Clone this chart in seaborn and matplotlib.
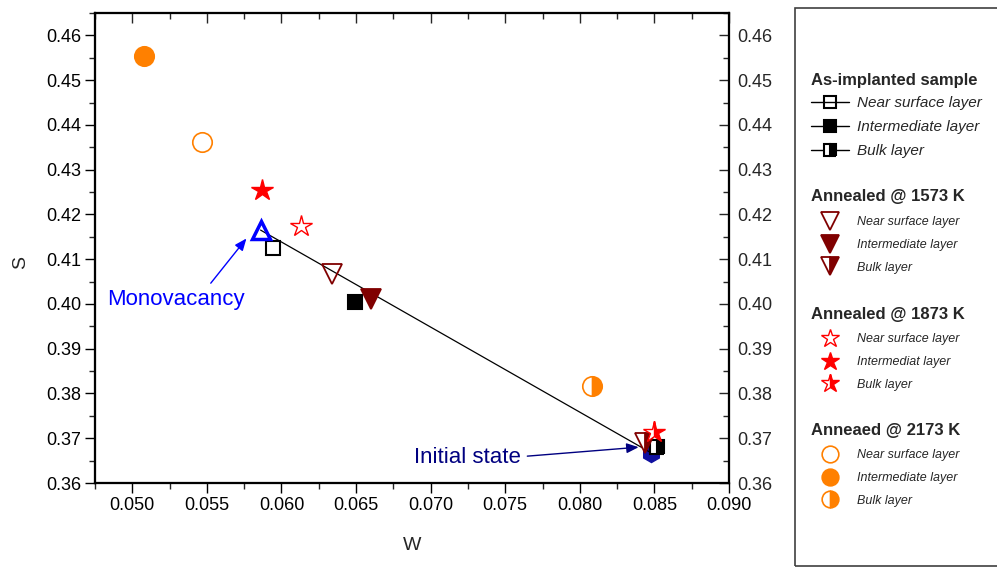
import numpy as np
import pandas as pd
import matplotlib.pyplot as plt
import seaborn as sns
from matplotlib.lines import Line2D
from matplotlib.patches import Rectangle
from matplotlib.ticker import MultipleLocator, FormatStrFormatter, NullFormatter

# data (W, S)
layers = ["Near surface layer", "Intermediate layer", "Bulk layer"]
implanted_w = [0.0594, 0.0649, 0.0852]
implanted_s = [0.4125, 0.4004, 0.3681]
a1573_w = [0.0634, 0.0660, 0.0844]
a1573_s = [0.4068, 0.4012, 0.3689]
a1873_w = [0.0613, 0.0587, 0.0850]
a1873_s = [0.4174, 0.4254, 0.3715]
a2173_w = [0.0547, 0.0508, 0.0808]
a2173_s = [0.4361, 0.4553, 0.3816]
mono_w, mono_s = [0.0586], [0.4165]
init_w, init_s = [0.0848], [0.3667]

headers = ["As-implanted sample", "Annealed @ 1573 K", "Annealed @ 1873 K", "Anneaed @ 2173 K"]
labels_1873 = ["Near surface layer", "Intermediat layer", "Bulk layer"]

sns.set_theme(style='ticks')
plt.rcParams['font.family'] = ['Liberation Sans', 'DejaVu Sans']

fig = plt.figure(figsize=(9.97, 5.67), dpi=100)
ax = fig.add_axes([95/997, 1-483/567, 634/997, 470/567])

# marker style per group: marker, color, size, edge width
groups = [
    (implanted_w, implanted_s, 's', 'black', 9.5, 1.5),
    (a1573_w, a1573_s, 'v', '#800000', 14.5, 1.3),
    (a1873_w, a1873_s, '*', '#FF0000', 16, 1.0),
    (a2173_w, a2173_s, 'o', '#FF8000', 14, 1.2),
]
fills = ['none', 'full', 'right']

def draw_point(w, s, marker, color, ms, mew, fill, z):
    mfc = 'none' if fill == 'none' else color
    fs = 'full' if fill == 'none' else fill
    sns.lineplot(x=[w], y=[s], ax=ax, estimator=None, errorbar=None, linestyle='',
                 marker=marker, ms=ms, mec=color, mfc=mfc, fillstyle=fs,
                 mfcalt='white', mew=mew, zorder=z)

# initial state (hexagon) and the line to the monovacancy
sns.lineplot(x=[init_w[0]], y=[init_s[0]], ax=ax, estimator=None, errorbar=None, linestyle='',
             marker='h', ms=13, mec='#1010A0', mfc='#1010A0', mew=1, zorder=2)
sns.lineplot(x=[mono_w[0], init_w[0]], y=[mono_s[0], init_s[0]], ax=ax, estimator=None,
             sort=False, errorbar=None, color='black', lw=0.9, zorder=3)

z = 4
for w, s, marker, color, ms, mew in groups:
    for i in range(3):
        draw_point(w[i], s[i], marker, color, ms, mew, fills[i], z)
        z += 1

sns.lineplot(x=mono_w, y=mono_s, ax=ax, estimator=None, errorbar=None, linestyle='',
             marker='^', ms=13.5, mec='#0000FF', mfc='none', mew=2.5, zorder=20)

# annotations
ax.text(0.04831, 0.4011, "Monovacancy", color='#0000FF', fontsize=16, va='center', ha='left')
ax.annotate('', xy=(0.05765, 0.41462), xytext=(0.05526, 0.40464),
            arrowprops=dict(arrowstyle='-|>,head_length=0.6,head_width=0.25', color='#0000FF',
                            lw=1, mutation_scale=12, shrinkA=0, shrinkB=0))
ax.text(0.0689, 0.3656, "Initial state", color='#000080', fontsize=16, va='center', ha='left')
ax.annotate('', xy=(0.08394, 0.3680), xytext=(0.07648, 0.3660),
            arrowprops=dict(arrowstyle='-|>,head_length=0.6,head_width=0.25', color='#000080',
                            lw=1, mutation_scale=12, shrinkA=0, shrinkB=0))

# axes, ticks
xlim = (0.0475, 0.090)
ylim = (0.36, 0.465)
ax.set_xlim(*xlim)
ax.set_ylim(*ylim)
ax.xaxis.set_major_locator(MultipleLocator(0.005))
ax.xaxis.set_minor_locator(MultipleLocator(0.0025))
ax.yaxis.set_major_locator(MultipleLocator(0.01))
ax.yaxis.set_minor_locator(MultipleLocator(0.005))
ax.xaxis.set_major_formatter(FormatStrFormatter('%.3f'))
ax.yaxis.set_major_formatter(FormatStrFormatter('%.2f'))
ax.tick_params(which='major', direction='out', length=7, width=1, labelsize=13, pad=3, colors='black')
ax.tick_params(which='minor', direction='out', length=4, width=1)

# right axis: inward ticks with labels
ax_r = ax.twinx()
ax_r.set_ylim(*ylim)
ax_r.yaxis.set_major_locator(MultipleLocator(0.01))
ax_r.yaxis.set_minor_locator(MultipleLocator(0.005))
ax_r.yaxis.set_major_formatter(FormatStrFormatter('%.2f'))
ax_r.tick_params(axis='y', which='major', direction='in', length=7, width=1, labelsize=13, pad=6)
ax_r.tick_params(axis='y', which='minor', direction='in', length=4, width=1)

# top axis: inward ticks, no labels
ax_t = ax.twiny()
ax_t.set_xlim(*xlim)
ax_t.xaxis.set_major_locator(MultipleLocator(0.005))
ax_t.xaxis.set_minor_locator(MultipleLocator(0.0025))
ax_t.xaxis.set_major_formatter(NullFormatter())
ax_t.tick_params(axis='x', which='major', direction='in', length=7, width=1)
ax_t.tick_params(axis='x', which='minor', direction='in', length=4, width=1)

for a in (ax, ax_r, ax_t):
    for sp in a.spines.values():
        sp.set_linewidth(1.5)
        sp.set_color('black')

ax.set_xlabel('W', fontsize=14)
ax.set_ylabel('S', fontsize=14)
ax.xaxis.set_label_coords(0.5, -0.115)
ax.yaxis.set_label_coords(-0.104, 0.47)

# legend box with four groups
fig.add_artist(Rectangle((795/997, 1-566/567), 0.3, 558/567, transform=fig.transFigure,
                         fill=False, edgecolor='#404040', lw=1.2))

leg_ms = [8.5, 13.5, 13.5, 12]
header_y = [80, 197, 314, 431]
first_y = [96, 216, 333, 449]
for g, (w, s, marker, color, ms, mew) in enumerate(groups):
    handles = []
    labs = labels_1873 if g == 2 else layers
    for i in range(3):
        mfc = 'none' if fills[i] == 'none' else color
        fs = 'full' if fills[i] == 'none' else fills[i]
        handles.append(Line2D([], [], color=color, lw=1 if g == 0 else 0,
                              marker=marker, ms=leg_ms[g], mec=color, mfc=mfc,
                              fillstyle=fs, mfcalt='white', mew=mew, label=labs[i]))
    fsz = 11 if g == 0 else 9
    fig.text(811/997, 1-header_y[g]/567, headers[g], fontsize=12, fontweight='bold',
             va='center', ha='left')
    fig.legend(handles=handles, loc='upper left',
               bbox_to_anchor=(811/997, 1-first_y[g]/567),
               frameon=False, borderpad=0, borderaxespad=0,
               prop={'size': fsz, 'style': 'italic'},
               handlelength=38/(fsz*100/72), handletextpad=8/(fsz*100/72),
               labelspacing=0.65 if g == 0 else 0.87)

fig.savefig('out.png', dpi=100)
